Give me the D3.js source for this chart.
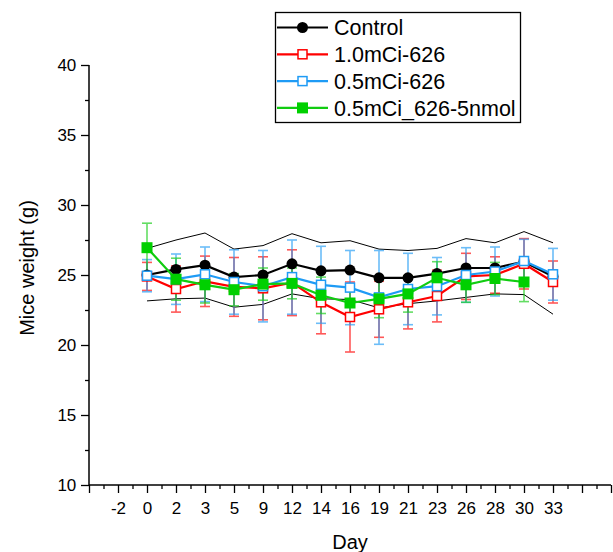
<!DOCTYPE html>
<html><head><meta charset="utf-8">
<script src="https://cdn.jsdelivr.net/npm/d3@7"></script>
<style>body{margin:0;background:#fff}svg{display:block;font-family:Arial,'Liberation Sans',sans-serif}</style>
</head><body><svg id="c" width="613" height="552"></svg>
<script>
const categories = ["-2","0","2","3","5","9","12","14","16","19","21","23","26","28","30","33"];
const days = ["0","2","3","5","9","12","14","16","19","21","23","26","28","30","33"];
const yTicks = [10,15,20,25,30,35,40];
const seriesNames = ["Control","1.0mCi-626","0.5mCi-626","0.5mCi_626-5nmol"];
const control = [25.0,25.4,25.7,24.85,25.0,25.8,25.3,25.35,24.8,24.8,25.1,25.5,25.5,25.95,24.9];
const controlUpper = [26.9,27.5,28.0,26.85,27.1,27.95,27.3,27.45,26.85,26.75,26.9,27.6,27.3,28.1,27.3];
const controlLower = [23.15,23.3,23.35,22.7,22.9,23.65,23.3,23.25,22.65,22.95,23.15,23.4,23.65,23.6,22.2];
const red = [24.9,24.0,24.55,24.15,24.05,24.45,23.05,22.0,22.55,23.05,23.5,24.9,25.0,25.8,24.5];
const redSD = [1.0,1.65,1.8,2.1,2.25,2.35,2.25,2.5,2.0,1.9,1.85,1.65,1.3,1.8,1.5];
const blue = [24.95,24.7,25.05,24.5,24.2,24.85,24.3,24.1,23.4,24.0,24.2,25.0,25.25,26.0,25.05];
const blueSD = [1.15,1.8,1.95,2.3,2.55,2.65,2.75,2.65,3.35,2.55,2.05,1.95,1.75,1.55,1.85];
const green = [26.95,24.7,24.3,23.95,24.35,24.4,23.55,23.0,23.3,23.65,24.8,24.3,24.75,24.5];
const greenSD = [1.75,1.5,1.3,1.15,1.15,1.1,1.3,1.0,1.35,1.3,1.15,1.25,1.15,1.4];

const svg = d3.select("#c");
const x = d3.scaleLinear().domain([0,18]).range([89,611]);
const y = d3.scaleLinear().domain([10,40]).range([485,65]);
const pos = d => categories.indexOf(d)+1;

// axes
const xAxis = d3.axisBottom(x).tickValues(d3.range(0,19)).tickSize(8)
  .tickFormat(i => (i>=1 && i<=categories.length) ? categories[i-1] : "");
const gx = svg.append("g").attr("transform","translate(0,485)").call(xAxis);
svg.append("g").attr("transform","translate(0,485)")
  .call(d3.axisBottom(x).tickValues(d3.range(0.5,18,1)).tickSize(4).tickFormat(""))
  .select(".domain").remove();
const gy = svg.append("g").attr("transform","translate(89,0)")
  .call(d3.axisLeft(y).tickValues(yTicks).tickSize(8));
svg.append("g").attr("transform","translate(89,0)")
  .call(d3.axisLeft(y).tickValues(d3.range(12.5,40,5)).tickSize(4).tickFormat(""))
  .select(".domain").remove();
svg.selectAll(".domain").attr("stroke","#000").attr("stroke-width",1.5);
svg.selectAll(".tick line").attr("stroke","#000").attr("stroke-width",1.3);
gx.selectAll(".tick text").attr("font-size",17).attr("fill","#000").attr("dy","1.05em");
gy.selectAll(".tick text").attr("font-size",17).attr("fill","#000").attr("dx","-0.1em");
gx.select(".domain").attr("d","M89,0H611");
gy.select(".domain").attr("d","M0,65V485");

svg.append("text").attr("x",350).attr("y",549).attr("text-anchor","middle")
  .attr("font-size",20).text("Day");
svg.append("text").attr("transform","translate(34,268) rotate(-90)")
  .attr("text-anchor","middle").attr("font-size",20).text("Mice weight (g)");

const line = d3.line().x(d=>x(pos(d.day))).y(d=>y(d.v));
const mk = (vals, sds) => vals.map((v,i)=>({day:days[i], v, sd: sds?sds[i]:0}));

// envelope
[controlUpper, controlLower].forEach(arr=>{
  svg.append("path").datum(mk(arr)).attr("d",line).attr("fill","none")
    .attr("stroke","#000").attr("stroke-width",1);
});

const series = [
  {name:seriesNames[0], data:mk(control), color:"#000", err:"#000", shape:"circle", fill:"#000"},
  {name:seriesNames[1], data:mk(red,redSD), color:"#ff0000", err:"#ff0000", shape:"square", fill:"#fff"},
  {name:seriesNames[2], data:mk(blue,blueSD), color:"#1e9bf5", err:"#1e9bf5", shape:"square", fill:"#fff"},
  {name:seriesNames[3], data:mk(green,greenSD), color:"#11cc11", err:"#11cc11", shape:"square", fill:"#00d000"}
];

// error bars
series.slice(1).forEach(s=>{
  const g = svg.append("g").attr("stroke",s.err).attr("stroke-width",1.6).attr("opacity",0.65);
  s.data.forEach(d=>{
    const cx = x(pos(d.day));
    g.append("line").attr("x1",cx).attr("x2",cx).attr("y1",y(d.v+d.sd)).attr("y2",y(d.v-d.sd));
    [d.v+d.sd,d.v-d.sd].forEach(v=>g.append("line").attr("x1",cx-5).attr("x2",cx+5).attr("y1",y(v)).attr("y2",y(v)));
  });
});

function marker(g, shape, cx, cy, color, fill){
  if(shape==="circle") g.append("circle").attr("cx",cx).attr("cy",cy).attr("r",5.5).attr("fill",fill);
  else if(fill==="#fff") g.append("rect").attr("x",cx-4.5).attr("y",cy-4.5).attr("width",9).attr("height",9)
      .attr("fill","#fff").attr("stroke",color).attr("stroke-width",1.5);
  else g.append("rect").attr("x",cx-5.5).attr("y",cy-5.5).attr("width",11).attr("height",11).attr("fill",fill);
}

series.forEach(s=>{
  svg.append("path").datum(s.data).attr("d",line).attr("fill","none")
    .attr("stroke",s.color).attr("stroke-width",2.2);
  const g = svg.append("g");
  s.data.forEach(d=>marker(g,s.shape,x(pos(d.day)),y(d.v),s.color,s.fill));
});

// legend
const lg = svg.append("g");
lg.append("rect").attr("x",275.5).attr("y",12.5).attr("width",245).attr("height",110)
  .attr("fill","#fff").attr("stroke","#000").attr("stroke-width",1.3);
series.forEach((s,i)=>{
  const yy = 27.5 + i*26.8;
  lg.append("line").attr("x1",277).attr("x2",328).attr("y1",yy).attr("y2",yy)
    .attr("stroke",s.color).attr("stroke-width",2.2);
  marker(lg,s.shape,302.5,yy,s.color,s.fill);
  lg.append("text").attr("x",334).attr("y",yy).attr("dy","0.36em")
    .attr("font-size",21.5).text(s.name);
});
</script></body></html>
